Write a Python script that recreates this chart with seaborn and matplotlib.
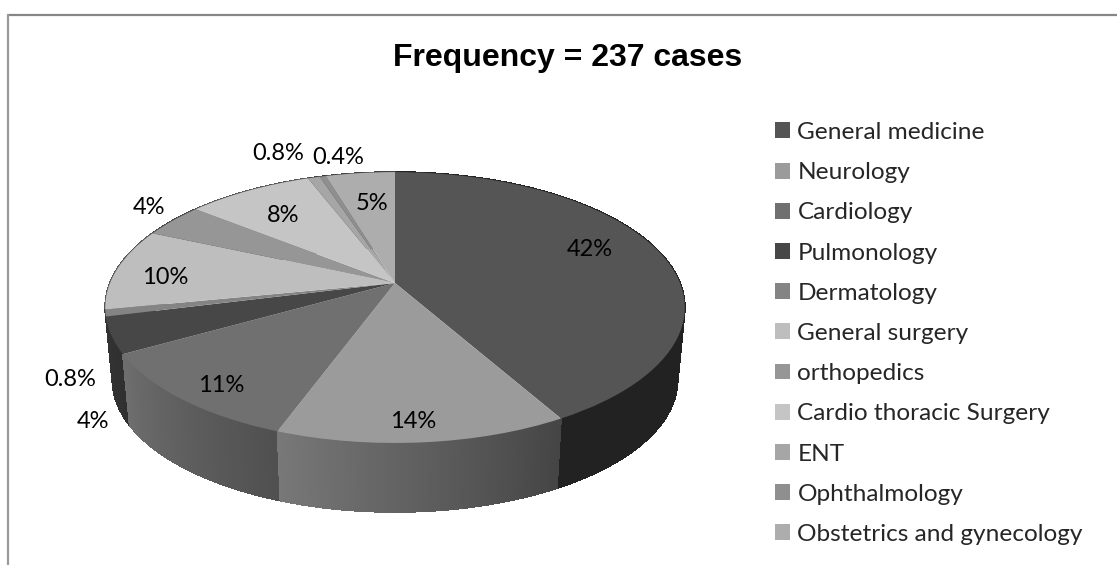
import numpy as np
import matplotlib
matplotlib.use("Agg")
import matplotlib.pyplot as plt
from matplotlib.transforms import Transform
import seaborn as sns

categories = ["General medicine", "Neurology", "Cardiology", "Pulmonology", "Dermatology",
              "General surgery", "orthopedics", "Cardio thoracic Surgery", "ENT",
              "Ophthalmology", "Obstetrics and gynecology"]
values = [41.8, 13.7, 11.2, 4.3, 0.8, 9.8, 4.1, 8.4, 0.8, 0.4, 4.6]
pct_labels = ["42%", "14%", "11%", "4%", "0.8%", "10%", "4%", "8%", "0.8%", "0.4%", "5%"]
title = "Frequency = 237 cases"

top_colors = ["#555555", "#9b9b9b", "#707070", "#474747", "#848484", "#bebebe",
              "#969696", "#c5c5c5", "#a6a6a6", "#8f8f8f", "#adadad"]
wall_start = ["#222222", "#454545", "#505050", "#303030", "#3a3a3a", "#555555",
              "#444444", "#555555", "#444444", "#3a3a3a", "#444444"]
wall_end = ["#222222", "#787878", "#6e6e6e", "#333333", "#3a3a3a", "#555555",
            "#444444", "#555555", "#444444", "#3a3a3a", "#444444"]
# label centres in pixels
label_x = [590, 413, 221, 93, 70, 165, 149, 283, 278, 338, 372]
label_y = [250, 421, 386, 421, 380, 278, 208, 216, 154, 157, 204]

CX, CY = 395, 283
A, B, P = 285, 131, 0.181
DEPTH, SHRINK = 73, 0.975


class Tilt(Transform):
    """Unit circle to the tilted ellipse of the pie top, in pixels."""
    input_dims = 2
    output_dims = 2
    is_separable = False

    def transform_non_affine(self, values):
        u, v = values[:, 0], values[:, 1]
        w = 1 + P * v
        return np.column_stack([CX + A * u / w, CY - B * v / w])


def rim(theta, bottom=False):
    u, v = np.sin(theta), np.cos(theta)
    w = 1 + P * v
    if bottom:
        return CX + SHRINK * A * u / w, CY + DEPTH - SHRINK * B * v / w
    return CX + A * u / w, CY - B * v / w


sns.set_theme(style="white")
plt.rcParams["font.family"] = ["Lato", "DejaVu Sans"]

fig = plt.figure(figsize=(11.17, 5.65), dpi=100)
ax = fig.add_axes([0, 0, 1, 1])

wedges, _ = ax.pie(values, colors=sns.color_palette(top_colors), startangle=90, counterclock=False,
                   wedgeprops={"transform": Tilt() + ax.transData, "linewidth": 0, "zorder": 5})
ax.set_aspect("auto")
ax.set_xlim(0, 1117)
ax.set_ylim(565, 0)
ax.axis("off")

# side wall, thin strips back to front
edges = 2 * np.pi * np.cumsum([0] + values) / sum(values)
strips = []
for i in range(len(values)):
    t = np.linspace(edges[i], edges[i + 1], max(3, int(values[i] * 6)))
    c0, c1 = np.array(matplotlib.colors.to_rgb(wall_start[i])), np.array(matplotlib.colors.to_rgb(wall_end[i]))
    for j in range(len(t) - 1):
        f = j / max(1, len(t) - 2)
        strips.append((t[j], t[j + 1], c0 + (c1 - c0) * f))
strips.sort(key=lambda s: -np.cos(s[0]))
for t0, t1, col in strips:
    x0, y0 = rim(t0)
    x1, y1 = rim(t1)
    x2, y2 = rim(t1, bottom=True)
    x3, y3 = rim(t0, bottom=True)
    ax.fill([x0, x1, x2, x3], [y0, y1, y2, y3], color=col, linewidth=0.6, antialiased=False, zorder=2)

for x, y, s in zip(label_x, label_y, pct_labels):
    ax.text(x, y, s, fontsize=17, color="black", ha="center", va="center", zorder=6)

ax.text(568, 58, title, fontsize=23, fontweight="bold", family="Liberation Sans",
        color="black", ha="center", va="center")

ax.legend(wedges, categories, loc="upper left", bbox_to_anchor=(775 / 1117, 1 - 122 / 565),
          frameon=False, fontsize=17.6, handlelength=0.62, handleheight=0.62,
          labelspacing=0.785, handletextpad=0.3, borderpad=0, borderaxespad=0)

# chart frame, only top and left show
ax.plot([7.5, 1117], [14.5, 14.5], color="#868686", lw=1.6, zorder=1)
ax.plot([7.5, 7.5], [14.5, 565], color="#9a9a9a", lw=1.6, zorder=1)

fig.savefig("out.png", dpi=100)
